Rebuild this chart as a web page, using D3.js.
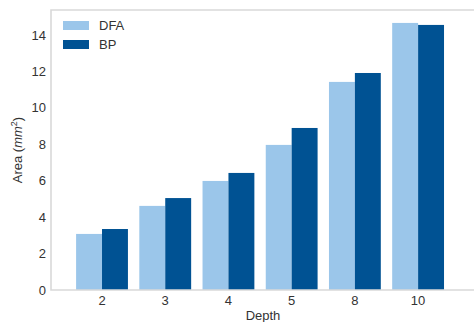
<!DOCTYPE html>
<html>
  <head>
    <script src="https://d3js.org/d3.v7.min.js"></script>
    <style>
      body { margin: 0; background: #fff; }
      text { font-family: "Liberation Sans", Arial, sans-serif; fill: #333; }
    </style>
  </head>
  <body>
    <script>
      // Data
      const depths = ["2", "3", "4", "5", "8", "10"];
      const dfa = [3.08, 4.62, 5.99, 7.97, 11.43, 14.67];
      const bp = [3.35, 5.05, 6.43, 8.90, 11.92, 14.56];
      const yTicks = [0, 2, 4, 6, 8, 10, 12, 14];
      const seriesNames = ["DFA", "BP"];
      const colors = ["#9bc6ea", "#005293"];

      const width = 474, height = 322;
      const plotLeft = 51, plotRight = 475, plotTop = 10, plotBottom = 290;

      const svg = d3.select("body").append("svg")
        .attr("width", width)
        .attr("height", height);

      const x = d3.scaleLinear().domain([-0.807, 5.9]).range([plotLeft, plotRight]);
      const y = d3.scaleLinear().domain([0, 15.38]).range([plotBottom, plotTop]);
      const barW = 0.41;

      // Bars
      [dfa, bp].forEach((vals, s) => {
        svg.append("g").selectAll("rect")
          .data(vals)
          .enter()
          .append("rect")
          .attr("x", (d, i) => s === 0 ? x(i - barW) : x(i))
          .attr("width", x(barW) - x(0))
          .attr("y", d => y(d))
          .attr("height", d => y(0) - y(d))
          .attr("fill", colors[s]);
      });

      // Frame (light gray spines)
      svg.append("path")
        .attr("d", `M${plotRight},${plotTop}H${plotLeft}V${plotBottom}H${plotRight}`)
        .attr("fill", "none")
        .attr("stroke", "#d9d9d9")
        .attr("stroke-width", 1.6);

      // Y tick labels
      svg.append("g").selectAll("text")
        .data(yTicks)
        .enter()
        .append("text")
        .attr("x", plotLeft - 5)
        .attr("y", d => y(d))
        .attr("dy", "0.35em")
        .attr("text-anchor", "end")
        .attr("font-size", 13)
        .text(d => d);

      // X tick labels
      svg.append("g").selectAll("text")
        .data(depths)
        .enter()
        .append("text")
        .attr("x", (d, i) => x(i))
        .attr("y", 305)
        .attr("text-anchor", "middle")
        .attr("font-size", 13)
        .text(d => d);

      // Axis titles
      svg.append("text")
        .attr("x", (plotLeft + plotRight) / 2)
        .attr("y", 320)
        .attr("text-anchor", "middle")
        .attr("font-size", 13)
        .text("Depth");

      const yl = svg.append("text")
        .attr("transform", `translate(22,${(plotTop + plotBottom) / 2}) rotate(-90)`)
        .attr("text-anchor", "middle")
        .attr("font-size", 13);
      yl.append("tspan").text("Area (");
      yl.append("tspan").attr("font-style", "italic").text("mm");
      yl.append("tspan").attr("font-size", 9).attr("dy", -5).text("2");
      yl.append("tspan").attr("dy", 5).text(")");

      // Legend
      const legend = svg.append("g").attr("transform", "translate(63,21)");
      seriesNames.forEach((name, i) => {
        legend.append("rect")
          .attr("x", 0)
          .attr("y", i * 19)
          .attr("width", 26)
          .attr("height", 9)
          .attr("fill", colors[i]);
        legend.append("text")
          .attr("x", 36)
          .attr("y", i * 19 + 4.5)
          .attr("dy", "0.35em")
          .attr("font-size", 13)
          .text(name);
      });
    </script>
  </body>
</html>
